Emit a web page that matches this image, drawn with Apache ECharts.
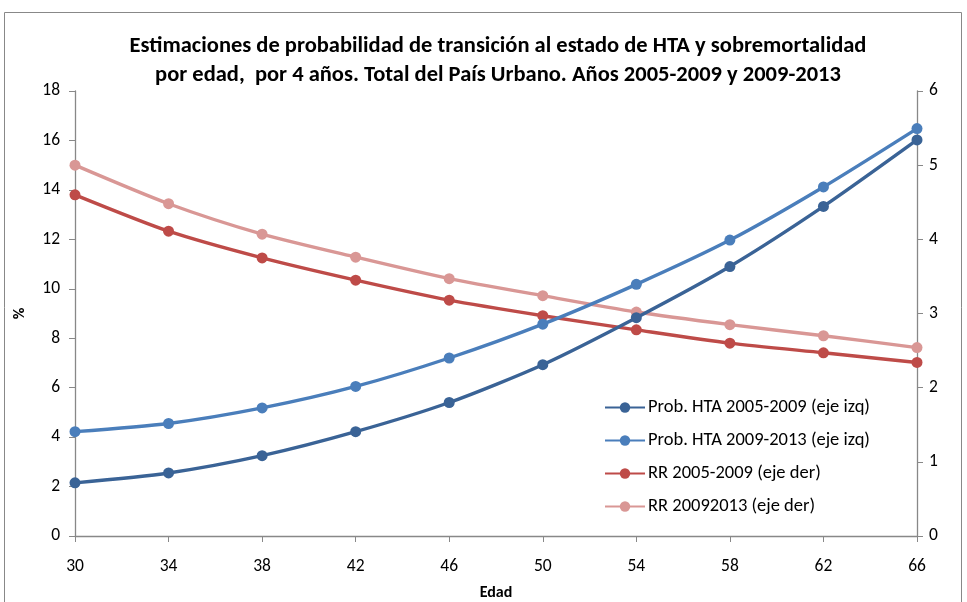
<!DOCTYPE html>
<html><head><meta charset="utf-8">
<script src="https://cdn.jsdelivr.net/npm/echarts@6/dist/echarts.min.js"></script>
<style>html,body{margin:0;padding:0;background:#fff}#c{width:967px;height:602px}</style>
</head><body><div id="c"></div>
<script>
const categories = ['30','34','38','42','46','50','54','58','62','66'];
const hta0509 = [2.15, 2.55, 3.25, 4.22, 5.4, 6.93, 8.83, 10.9, 13.33, 16.02];
const hta0913 = [4.22, 4.55, 5.18, 6.05, 7.2, 8.57, 10.18, 11.97, 14.12, 16.48];
const rr0509 = [4.6, 4.11, 3.75, 3.45, 3.18, 2.97, 2.78, 2.6, 2.47, 2.34];
const rr0913 = [5.0, 4.48, 4.07, 3.76, 3.47, 3.24, 3.02, 2.85, 2.7, 2.54];
const leftTicks = [0, 18, 2];
const rightTicks = [0, 6, 1];
const names = ['Prob. HTA 2005-2009 (eje izq)','Prob. HTA 2009-2013 (eje izq)','RR 2005-2009 (eje der)','RR 20092013 (eje der)'];
const colors = ['#3A6396','#4A7EBB','#BE4B48','#D99795'];

const font = 'Calibri, Carlito, Lato, "Open Sans", sans-serif';
const chart = echarts.init(document.getElementById('c'));
function mk(i, data, yIdx){
  return {name:names[i], type:'line', data:data, yAxisIndex:yIdx, smooth:0.25,
    symbol:'circle', symbolSize:11, color:colors[i],
    lineStyle:{width:3.4,color:colors[i]}, itemStyle:{color:colors[i]}, z:10-i};
}
const axisLine = {show:true, lineStyle:{color:'#888', width:1.3}};
chart.setOption({
  animation:false,
  title:{text:'Estimaciones de probabilidad de transición al estado de HTA y sobremortalidad\npor edad,  por 4 años. Total del País Urbano. Años 2005-2009 y 2009-2013',
    left:493, top:27, textAlign:'center',
    textStyle:{fontFamily:font, fontSize:22.5, fontWeight:'bold', color:'#000', lineHeight:29}},
  legend:{orient:'vertical', left:599, top:393, itemGap:14, itemWidth:40, itemHeight:13,
    textStyle:{fontFamily:font, fontSize:18.5, color:'#000', padding:[0,0,0,-2]}, data:names},
  grid:{left:75, right:50, top:91, bottom:66, containLabel:false, outerBoundsMode:'none'},
  xAxis:{type:'category', data:categories, boundaryGap:false,
    name:'Edad', nameLocation:'middle', nameGap:49,
    nameTextStyle:{fontFamily:font, fontSize:16, fontWeight:'bold', color:'#000'},
    axisLine:axisLine, axisTick:{show:true, length:6, lineStyle:{color:'#888'}},
    axisLabel:{fontFamily:font, fontSize:17.5, color:'#000', margin:22}},
  yAxis:[
    {type:'value', min:leftTicks[0], max:leftTicks[1], interval:leftTicks[2],
     name:'%', nameLocation:'middle', nameGap:47, nameRotate:90,
     nameTextStyle:{fontFamily:font, fontSize:16, fontWeight:'bold', color:'#000'},
     axisLine:axisLine, axisTick:{show:true, length:6, lineStyle:{color:'#888'}},
     splitLine:{show:false}, axisLabel:{fontFamily:font, fontSize:17.5, color:'#000', margin:15}},
    {type:'value', min:rightTicks[0], max:rightTicks[1], interval:rightTicks[2], position:'right',
     axisLine:axisLine, axisTick:{show:true, length:6, lineStyle:{color:'#888'}},
     splitLine:{show:false}, axisLabel:{fontFamily:font, fontSize:17.5, color:'#000', margin:12}}
  ],
  graphic:[{type:'rect', shape:{x:4.5,y:12.5,width:957,height:600}, style:{fill:null, stroke:'#888', lineWidth:1}, silent:true}],
  series:[mk(0,hta0509,0), mk(1,hta0913,0), mk(2,rr0509,1), mk(3,rr0913,1)]
});
</script></body></html>
